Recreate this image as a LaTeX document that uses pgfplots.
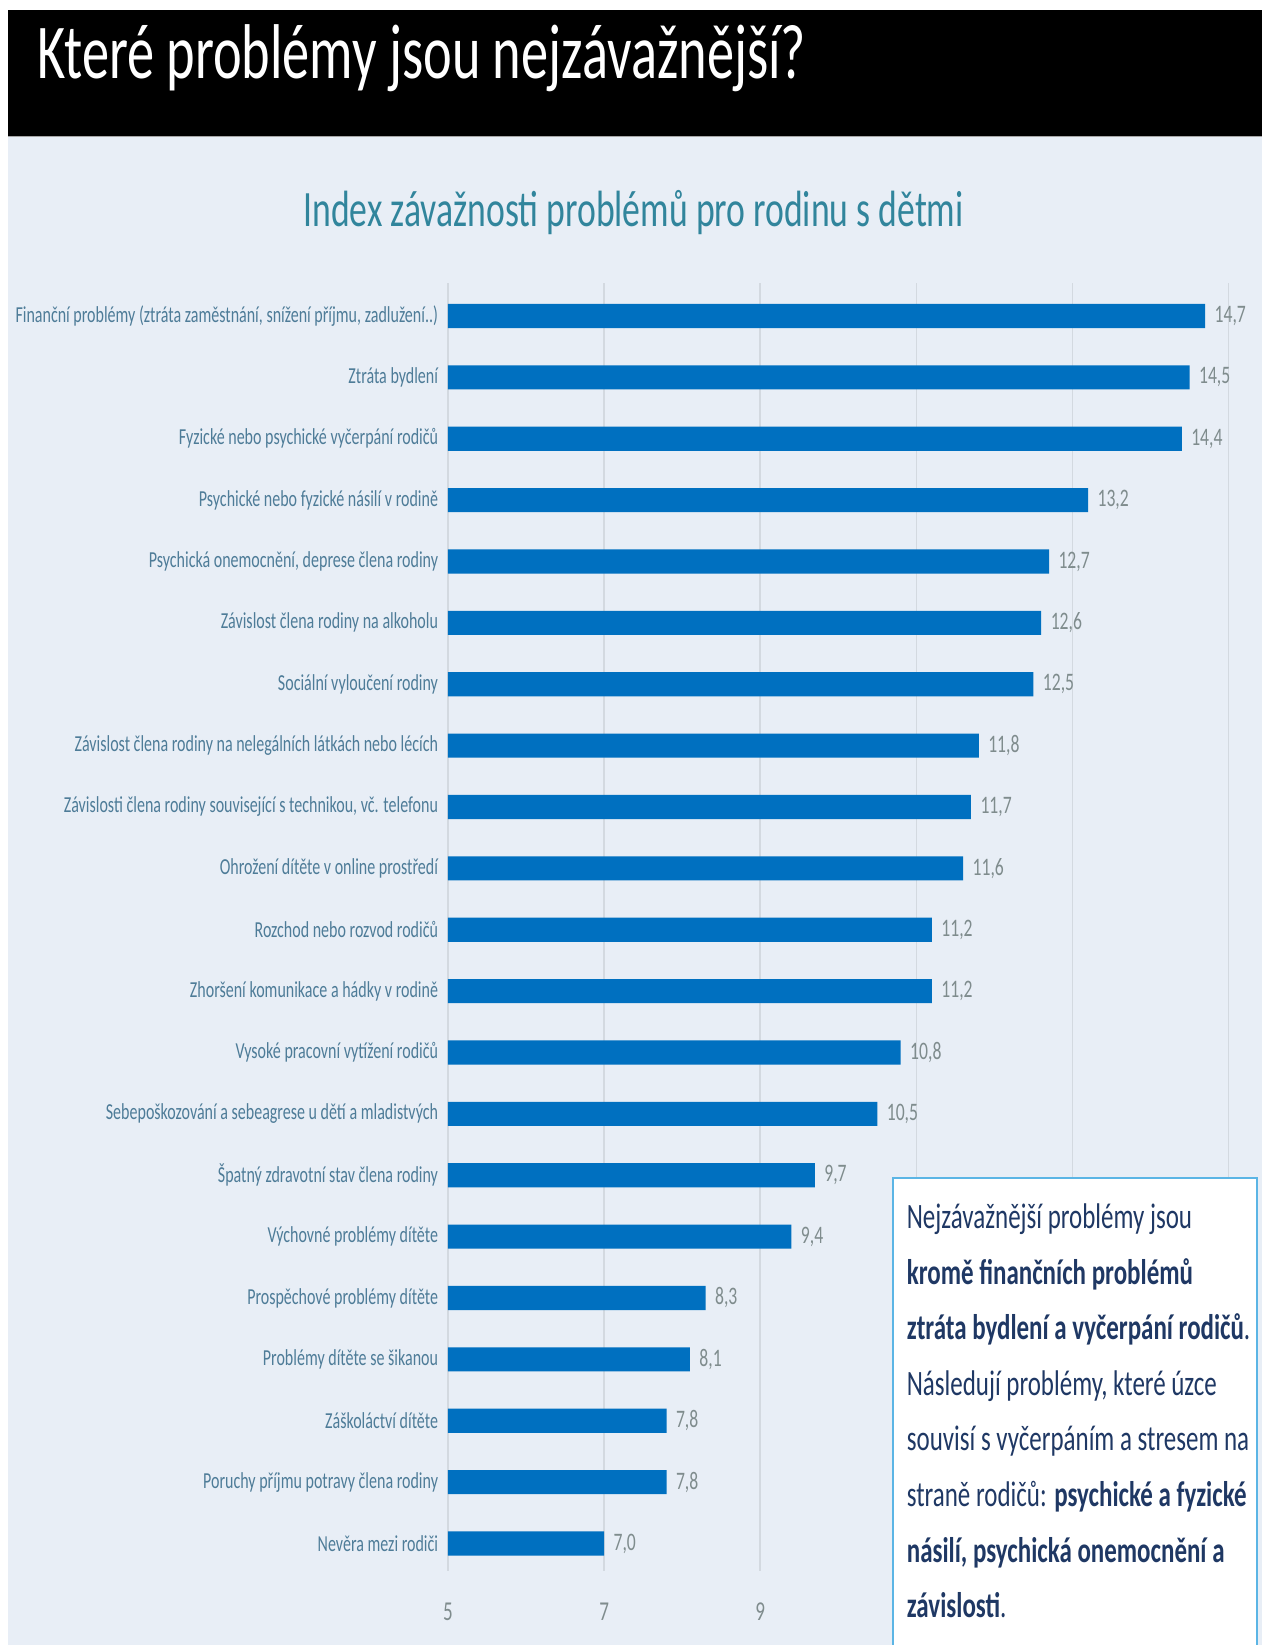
\documentclass[border=0pt]{standalone}
\usepackage{fontspec}
\setmainfont{Carlito}[FakeStretch=0.7]
\usepackage{pgfplots}
\pgfplotsset{compat=1.18}
\definecolor{bg}{HTML}{E8EEF6}
\definecolor{catcol}{HTML}{4E7C98}
\definecolor{numcol}{HTML}{7F8C8D}
\definecolor{gridcol}{HTML}{D3D9E0}
\definecolor{barcol}{HTML}{0070C0}
\definecolor{subt}{HTML}{31859C}
\definecolor{navy}{HTML}{1F3864}
\definecolor{boxb}{HTML}{5BB5E5}
\begin{document}
\begin{tikzpicture}
\useasboundingbox (0pt,0pt) rectangle (601.5pt,784pt);
\fill[white] (0pt,0pt) rectangle (601.5pt,784pt);
\fill[black] (4pt,719pt) rectangle (601.5pt,779pt);
\fill[bg] (4pt,0pt) rectangle (601.5pt,719pt);
\draw[gray!70, line width=0.6pt] (4pt,719pt) -- (601.5pt,719pt);
\node[anchor=base west, text=white, font=\fontsize{37}{40}\selectfont, inner sep=0pt] at (17.5pt,746.5pt) {Které problémy jsou nejzávažnější?};
\node[anchor=base, text=subt, font=\fontsize{24.3}{28}\selectfont, inner sep=0pt] at (302pt,676pt) {Index závažnosti problémů pro rodinu s dětmi};
\begin{axis}[
  at={(213.5pt,35.5pt)}, anchor=south west,
  scale only axis, width=383.2pt, height=613.4pt,
  xmin=5, xmax=15.3, ymin=-0.44, ymax=20.53,
  xbar, bar width=11.5pt, bar shift=0pt,
  axis line style={draw=none},
  major tick length=0pt,
  xtick={5,7,...,15},
  xticklabels={5,7,9,{},{},{}},
  xmajorgrids, grid style={gridcol, line width=0.8pt},
  ytick={0,...,20},
  yticklabels={{Nevěra mezi rodiči},{Poruchy příjmu potravy člena rodiny},{Záškoláctví dítěte},{Problémy dítěte se šikanou},{Prospěchové problémy dítěte},{Výchovné problémy dítěte},{Špatný zdravotní stav člena rodiny},{Sebepoškozování a sebeagrese u dětí a mladistvých},{Vysoké pracovní vytížení rodičů},{Zhoršení komunikace a hádky v rodině},{Rozchod nebo rozvod rodičů},{Ohrožení dítěte v online prostředí},{Závislosti člena rodiny související s technikou, vč. telefonu},{Závislost člena rodiny na nelegálních látkách nebo lécích},{Sociální vyloučení rodiny},{Závislost člena rodiny na alkoholu},{Psychická onemocnění, deprese člena rodiny},{Psychické nebo fyzické násilí v rodině},{Fyzické nebo psychické vyčerpání rodičů},{Ztráta bydlení},{Finanční problémy (ztráta zaměstnání, snížení příjmu, zadlužení..)}},
  yticklabel style={font=\fontsize{10.9}{12}\selectfont, text=catcol, xshift=-1.2pt},
  xticklabel style={font=\fontsize{13}{14}\selectfont, text=numcol, yshift=-12pt},
  /pgf/number format/assume math mode=true,
  point meta=x,
  nodes near coords={\pgfmathprintnumber[fixed,fixed zerofill,precision=1,use comma]{\pgfplotspointmeta}},
  nodes near coords style={font=\fontsize{12}{13}\selectfont, text=numcol, anchor=west, xshift=1pt},
]
\addplot[fill=barcol, draw=none] coordinates {
(7.0,0) (7.8,1) (7.8,2) (8.1,3) (8.3,4) (9.4,5) (9.7,6) (10.5,7) (10.8,8) (11.2,9) (11.2,10)
(11.6,11) (11.7,12) (11.8,13) (12.5,14) (12.6,15) (12.7,16) (13.2,17) (14.4,18) (14.5,19) (14.7,20)};
\end{axis}
\fill[white] (425.5pt,0pt) rectangle (599pt,222.5pt);
\draw[boxb, line width=0.7pt] (425.5pt,0pt) -- (425.5pt,222.5pt) -- (599pt,222.5pt) -- (599pt,0pt);
\begin{scope}[every node/.style={anchor=base west, inner sep=0pt, text=navy, font=\fontsize{17}{19}\selectfont}]
\node at (432pt,198.5pt) {Nejzávažnější problémy jsou};
\node at (432pt,172pt) {\textbf{kromě finančních problémů}};
\node at (432pt,145.5pt) {\textbf{ztráta bydlení a vyčerpání rodičů}.};
\node at (432pt,119pt) {Následují problémy, které úzce};
\node at (432pt,92.5pt) {souvisí s vyčerpáním a stresem na};
\node at (432pt,66pt) {straně rodičů: \textbf{psychické a fyzické}};
\node at (432pt,39.5pt) {\textbf{násilí, psychická onemocnění a}};
\node at (432pt,13pt) {\textbf{závislosti}.};
\end{scope}
\end{tikzpicture}
\end{document}
